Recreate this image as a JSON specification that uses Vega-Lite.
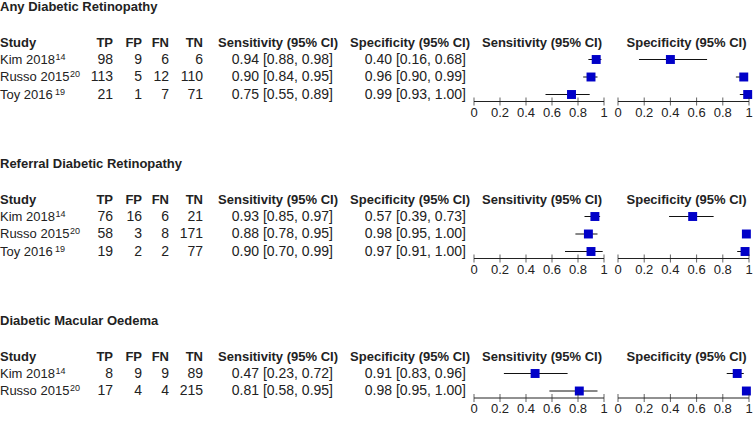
{
"$schema": "https://vega.github.io/schema/vega-lite/v6.json",
"padding": 0,
"background": "white",
"datasets": {
"studies": [
{"sec":"ADR","row":1,"study":"Kim 2018","ref":"14","TP":98,"FP":9,"FN":6,"TN":6,"sens":0.94,"sens_lo":0.88,"sens_hi":0.98,"spec":0.40,"spec_lo":0.16,"spec_hi":0.68,"sens_ci":"0.94 [0.88, 0.98]","spec_ci":"0.40 [0.16, 0.68]"},
{"sec":"ADR","row":2,"study":"Russo 2015","ref":"20","TP":113,"FP":5,"FN":12,"TN":110,"sens":0.90,"sens_lo":0.84,"sens_hi":0.95,"spec":0.96,"spec_lo":0.90,"spec_hi":0.99,"sens_ci":"0.90 [0.84, 0.95]","spec_ci":"0.96 [0.90, 0.99]"},
{"sec":"ADR","row":3,"study":"Toy 2016","ref":"19","TP":21,"FP":1,"FN":7,"TN":71,"sens":0.75,"sens_lo":0.55,"sens_hi":0.89,"spec":0.99,"spec_lo":0.93,"spec_hi":1.00,"sens_ci":"0.75 [0.55, 0.89]","spec_ci":"0.99 [0.93, 1.00]"},
{"sec":"RDR","row":1,"study":"Kim 2018","ref":"14","TP":76,"FP":16,"FN":6,"TN":21,"sens":0.93,"sens_lo":0.85,"sens_hi":0.97,"spec":0.57,"spec_lo":0.39,"spec_hi":0.73,"sens_ci":"0.93 [0.85, 0.97]","spec_ci":"0.57 [0.39, 0.73]"},
{"sec":"RDR","row":2,"study":"Russo 2015","ref":"20","TP":58,"FP":3,"FN":8,"TN":171,"sens":0.88,"sens_lo":0.78,"sens_hi":0.95,"spec":0.98,"spec_lo":0.95,"spec_hi":1.00,"sens_ci":"0.88 [0.78, 0.95]","spec_ci":"0.98 [0.95, 1.00]"},
{"sec":"RDR","row":3,"study":"Toy 2016","ref":"19","TP":19,"FP":2,"FN":2,"TN":77,"sens":0.90,"sens_lo":0.70,"sens_hi":0.99,"spec":0.97,"spec_lo":0.91,"spec_hi":1.00,"sens_ci":"0.90 [0.70, 0.99]","spec_ci":"0.97 [0.91, 1.00]"},
{"sec":"DMO","row":1,"study":"Kim 2018","ref":"14","TP":8,"FP":9,"FN":9,"TN":89,"sens":0.47,"sens_lo":0.23,"sens_hi":0.72,"spec":0.91,"spec_lo":0.83,"spec_hi":0.96,"sens_ci":"0.47 [0.23, 0.72]","spec_ci":"0.91 [0.83, 0.96]"},
{"sec":"DMO","row":2,"study":"Russo 2015","ref":"20","TP":17,"FP":4,"FN":4,"TN":215,"sens":0.81,"sens_lo":0.58,"sens_hi":0.95,"spec":0.98,"spec_lo":0.95,"spec_hi":1.00,"sens_ci":"0.81 [0.58, 0.95]","spec_ci":"0.98 [0.95, 1.00]"}
],
"ticks": [{"v":0,"lab":"0"},{"v":0.2,"lab":"0.2"},{"v":0.4,"lab":"0.4"},{"v":0.6,"lab":"0.6"},{"v":0.8,"lab":"0.8"},{"v":1,"lab":"1"}]
},
"config": {
"view": {"stroke": null},
"text": {"font": "Liberation Sans", "fontSize": 14, "color": "#222", "baseline": "middle"},
"axis": {"disable": true}
},
"columns": 3,
"bounds": "flush",
"align": "each",
"spacing": {"row": 55, "column": 14},
"concat": [
{"width":460,"height":101.5,"layer":[
{"data":{"values":[{}]},"mark":{"type":"text","align":"left","fontWeight":"bold","fontSize":13},"encoding":{"x":{"datum":0,"type":"quantitative","scale":{"type":"linear","domain":[0,1,2,3,4,5,6],"range":[0,113,142,169,203,338,470],"nice":false,"zero":false}},"y":{"datum":-2,"type":"quantitative","scale":{"domain":[-2.4,3.4],"reverse":true,"nice":false,"zero":false}},"text":{"value":"Any Diabetic Retinopathy"}}},
{"data":{"values":[{}]},"mark":{"type":"text","align":"left","fontWeight":"bold","fontSize":13,"dy":1},"encoding":{"x":{"datum":0,"type":"quantitative"},"y":{"datum":0,"type":"quantitative"},"text":{"value":"Study"}}},
{"data":{"values":[{}]},"mark":{"type":"text","align":"right","fontWeight":"bold","fontSize":13,"dy":1},"encoding":{"x":{"datum":1,"type":"quantitative"},"y":{"datum":0,"type":"quantitative"},"text":{"value":"TP"}}},
{"data":{"values":[{}]},"mark":{"type":"text","align":"right","fontWeight":"bold","fontSize":13,"dy":1},"encoding":{"x":{"datum":2,"type":"quantitative"},"y":{"datum":0,"type":"quantitative"},"text":{"value":"FP"}}},
{"data":{"values":[{}]},"mark":{"type":"text","align":"right","fontWeight":"bold","fontSize":13,"dy":1},"encoding":{"x":{"datum":3,"type":"quantitative"},"y":{"datum":0,"type":"quantitative"},"text":{"value":"FN"}}},
{"data":{"values":[{}]},"mark":{"type":"text","align":"right","fontWeight":"bold","fontSize":13,"dy":1},"encoding":{"x":{"datum":4,"type":"quantitative"},"y":{"datum":0,"type":"quantitative"},"text":{"value":"TN"}}},
{"data":{"values":[{}]},"mark":{"type":"text","align":"right","fontWeight":"bold","fontSize":13,"dy":1},"encoding":{"x":{"datum":5,"type":"quantitative"},"y":{"datum":0,"type":"quantitative"},"text":{"value":"Sensitivity (95% CI)"}}},
{"data":{"values":[{}]},"mark":{"type":"text","align":"right","fontWeight":"bold","fontSize":13,"dy":1},"encoding":{"x":{"datum":6,"type":"quantitative"},"y":{"datum":0,"type":"quantitative"},"text":{"value":"Specificity (95% CI)"}}},
{"data":{"name":"studies"},"transform":[{"filter":"datum.sec == 'ADR'"}],"mark":{"type":"text","align":"left","fontSize":13},"encoding":{"x":{"datum":0,"type":"quantitative"},"y":{"field":"row","type":"quantitative"},"text":{"field":"study"}}},
{"data":{"name":"studies"},"transform":[{"filter":"datum.sec == 'ADR' && datum.study == 'Kim 2018'"}],"mark":{"type":"text","align":"left","fontSize":9,"dx":55.5,"dy":-3},"encoding":{"x":{"datum":0,"type":"quantitative"},"y":{"field":"row","type":"quantitative"},"text":{"field":"ref"}}},
{"data":{"name":"studies"},"transform":[{"filter":"datum.sec == 'ADR' && datum.study == 'Russo 2015'"}],"mark":{"type":"text","align":"left","fontSize":9,"dx":70,"dy":-3},"encoding":{"x":{"datum":0,"type":"quantitative"},"y":{"field":"row","type":"quantitative"},"text":{"field":"ref"}}},
{"data":{"name":"studies"},"transform":[{"filter":"datum.sec == 'ADR' && datum.study == 'Toy 2016'"}],"mark":{"type":"text","align":"left","fontSize":9,"dx":55,"dy":-3},"encoding":{"x":{"datum":0,"type":"quantitative"},"y":{"field":"row","type":"quantitative"},"text":{"field":"ref"}}},
{"data":{"name":"studies"},"transform":[{"filter":"datum.sec == 'ADR'"}],"mark":{"type":"text","align":"right"},"encoding":{"x":{"datum":1,"type":"quantitative"},"y":{"field":"row","type":"quantitative"},"text":{"field":"TP"}}},
{"data":{"name":"studies"},"transform":[{"filter":"datum.sec == 'ADR'"}],"mark":{"type":"text","align":"right"},"encoding":{"x":{"datum":2,"type":"quantitative"},"y":{"field":"row","type":"quantitative"},"text":{"field":"FP"}}},
{"data":{"name":"studies"},"transform":[{"filter":"datum.sec == 'ADR'"}],"mark":{"type":"text","align":"right"},"encoding":{"x":{"datum":3,"type":"quantitative"},"y":{"field":"row","type":"quantitative"},"text":{"field":"FN"}}},
{"data":{"name":"studies"},"transform":[{"filter":"datum.sec == 'ADR'"}],"mark":{"type":"text","align":"right"},"encoding":{"x":{"datum":4,"type":"quantitative"},"y":{"field":"row","type":"quantitative"},"text":{"field":"TN"}}},
{"data":{"name":"studies"},"transform":[{"filter":"datum.sec == 'ADR'"}],"mark":{"type":"text","align":"right","dx":-5},"encoding":{"x":{"datum":5,"type":"quantitative"},"y":{"field":"row","type":"quantitative"},"text":{"field":"sens_ci"}}},
{"data":{"name":"studies"},"transform":[{"filter":"datum.sec == 'ADR'"}],"mark":{"type":"text","align":"right","dx":-4},"encoding":{"x":{"datum":6,"type":"quantitative"},"y":{"field":"row","type":"quantitative"},"text":{"field":"spec_ci"}}}
]},
{"width":130,"height":101.5,"layer":[
{"data":{"values":[{}]},"mark":{"type":"text","fontWeight":"bold","fontSize":13,"dy":1,"dx":3},"encoding":{"x":{"datum":0.5,"type":"quantitative","scale":{"domain":[0,1],"nice":false,"zero":false}},"y":{"datum":0,"type":"quantitative","scale":{"domain":[-2.4,3.4],"reverse":true,"nice":false,"zero":false}},"text":{"value":"Sensitivity (95% CI)"}}},
{"data":{"name":"studies"},"transform":[{"filter":"datum.sec == 'ADR'"}],"mark":{"type":"rule","color":"#111","strokeWidth":1},"encoding":{"x":{"field":"sens_lo","type":"quantitative"},"x2":{"field":"sens_hi"},"y":{"field":"row","type":"quantitative"}}},
{"data":{"name":"studies"},"transform":[{"filter":"datum.sec == 'ADR'"}],"mark":{"type":"point","shape":"square","filled":true,"size":80,"color":"#0000c8","opacity":1},"encoding":{"x":{"field":"sens","type":"quantitative"},"y":{"field":"row","type":"quantitative"}}},
{"data":{"values":[{}]},"mark":{"type":"rule","color":"#222","strokeWidth":1},"encoding":{"x":{"datum":0,"type":"quantitative"},"x2":{"datum":1},"y":{"datum":3.4,"type":"quantitative"}}},
{"data":{"name":"ticks"},"mark":{"type":"tick","orient":"vertical","color":"#222","size":8,"thickness":1},"encoding":{"x":{"field":"v","type":"quantitative"},"y":{"datum":3.4,"type":"quantitative"}}},
{"data":{"name":"ticks"},"mark":{"type":"text","fontSize":13,"dy":11},"encoding":{"x":{"field":"v","type":"quantitative"},"y":{"datum":3.4,"type":"quantitative"},"text":{"field":"lab"}}}
]},
{"width":131,"height":101.5,"layer":[
{"data":{"values":[{}]},"mark":{"type":"text","fontWeight":"bold","fontSize":13,"dy":1,"dx":3},"encoding":{"x":{"datum":0.5,"type":"quantitative","scale":{"domain":[0,1],"nice":false,"zero":false}},"y":{"datum":0,"type":"quantitative","scale":{"domain":[-2.4,3.4],"reverse":true,"nice":false,"zero":false}},"text":{"value":"Specificity (95% CI)"}}},
{"data":{"name":"studies"},"transform":[{"filter":"datum.sec == 'ADR'"}],"mark":{"type":"rule","color":"#111","strokeWidth":1},"encoding":{"x":{"field":"spec_lo","type":"quantitative"},"x2":{"field":"spec_hi"},"y":{"field":"row","type":"quantitative"}}},
{"data":{"name":"studies"},"transform":[{"filter":"datum.sec == 'ADR'"}],"mark":{"type":"point","shape":"square","filled":true,"size":80,"color":"#0000c8","opacity":1},"encoding":{"x":{"field":"spec","type":"quantitative"},"y":{"field":"row","type":"quantitative"}}},
{"data":{"values":[{}]},"mark":{"type":"rule","color":"#222","strokeWidth":1},"encoding":{"x":{"datum":0,"type":"quantitative"},"x2":{"datum":1},"y":{"datum":3.4,"type":"quantitative"}}},
{"data":{"name":"ticks"},"mark":{"type":"tick","orient":"vertical","color":"#222","size":8,"thickness":1},"encoding":{"x":{"field":"v","type":"quantitative"},"y":{"datum":3.4,"type":"quantitative"}}},
{"data":{"name":"ticks"},"mark":{"type":"text","fontSize":13,"dy":11},"encoding":{"x":{"field":"v","type":"quantitative"},"y":{"datum":3.4,"type":"quantitative"},"text":{"field":"lab"}}}
]},
{"width":460,"height":101.5,"layer":[
{"data":{"values":[{}]},"mark":{"type":"text","align":"left","fontWeight":"bold","fontSize":13},"encoding":{"x":{"datum":0,"type":"quantitative","scale":{"type":"linear","domain":[0,1,2,3,4,5,6],"range":[0,113,142,169,203,338,470],"nice":false,"zero":false}},"y":{"datum":-2,"type":"quantitative","scale":{"domain":[-2.4,3.4],"reverse":true,"nice":false,"zero":false}},"text":{"value":"Referral Diabetic Retinopathy"}}},
{"data":{"values":[{}]},"mark":{"type":"text","align":"left","fontWeight":"bold","fontSize":13,"dy":1},"encoding":{"x":{"datum":0,"type":"quantitative"},"y":{"datum":0,"type":"quantitative"},"text":{"value":"Study"}}},
{"data":{"values":[{}]},"mark":{"type":"text","align":"right","fontWeight":"bold","fontSize":13,"dy":1},"encoding":{"x":{"datum":1,"type":"quantitative"},"y":{"datum":0,"type":"quantitative"},"text":{"value":"TP"}}},
{"data":{"values":[{}]},"mark":{"type":"text","align":"right","fontWeight":"bold","fontSize":13,"dy":1},"encoding":{"x":{"datum":2,"type":"quantitative"},"y":{"datum":0,"type":"quantitative"},"text":{"value":"FP"}}},
{"data":{"values":[{}]},"mark":{"type":"text","align":"right","fontWeight":"bold","fontSize":13,"dy":1},"encoding":{"x":{"datum":3,"type":"quantitative"},"y":{"datum":0,"type":"quantitative"},"text":{"value":"FN"}}},
{"data":{"values":[{}]},"mark":{"type":"text","align":"right","fontWeight":"bold","fontSize":13,"dy":1},"encoding":{"x":{"datum":4,"type":"quantitative"},"y":{"datum":0,"type":"quantitative"},"text":{"value":"TN"}}},
{"data":{"values":[{}]},"mark":{"type":"text","align":"right","fontWeight":"bold","fontSize":13,"dy":1},"encoding":{"x":{"datum":5,"type":"quantitative"},"y":{"datum":0,"type":"quantitative"},"text":{"value":"Sensitivity (95% CI)"}}},
{"data":{"values":[{}]},"mark":{"type":"text","align":"right","fontWeight":"bold","fontSize":13,"dy":1},"encoding":{"x":{"datum":6,"type":"quantitative"},"y":{"datum":0,"type":"quantitative"},"text":{"value":"Specificity (95% CI)"}}},
{"data":{"name":"studies"},"transform":[{"filter":"datum.sec == 'RDR'"}],"mark":{"type":"text","align":"left","fontSize":13},"encoding":{"x":{"datum":0,"type":"quantitative"},"y":{"field":"row","type":"quantitative"},"text":{"field":"study"}}},
{"data":{"name":"studies"},"transform":[{"filter":"datum.sec == 'RDR' && datum.study == 'Kim 2018'"}],"mark":{"type":"text","align":"left","fontSize":9,"dx":55.5,"dy":-3},"encoding":{"x":{"datum":0,"type":"quantitative"},"y":{"field":"row","type":"quantitative"},"text":{"field":"ref"}}},
{"data":{"name":"studies"},"transform":[{"filter":"datum.sec == 'RDR' && datum.study == 'Russo 2015'"}],"mark":{"type":"text","align":"left","fontSize":9,"dx":70,"dy":-3},"encoding":{"x":{"datum":0,"type":"quantitative"},"y":{"field":"row","type":"quantitative"},"text":{"field":"ref"}}},
{"data":{"name":"studies"},"transform":[{"filter":"datum.sec == 'RDR' && datum.study == 'Toy 2016'"}],"mark":{"type":"text","align":"left","fontSize":9,"dx":55,"dy":-3},"encoding":{"x":{"datum":0,"type":"quantitative"},"y":{"field":"row","type":"quantitative"},"text":{"field":"ref"}}},
{"data":{"name":"studies"},"transform":[{"filter":"datum.sec == 'RDR'"}],"mark":{"type":"text","align":"right"},"encoding":{"x":{"datum":1,"type":"quantitative"},"y":{"field":"row","type":"quantitative"},"text":{"field":"TP"}}},
{"data":{"name":"studies"},"transform":[{"filter":"datum.sec == 'RDR'"}],"mark":{"type":"text","align":"right"},"encoding":{"x":{"datum":2,"type":"quantitative"},"y":{"field":"row","type":"quantitative"},"text":{"field":"FP"}}},
{"data":{"name":"studies"},"transform":[{"filter":"datum.sec == 'RDR'"}],"mark":{"type":"text","align":"right"},"encoding":{"x":{"datum":3,"type":"quantitative"},"y":{"field":"row","type":"quantitative"},"text":{"field":"FN"}}},
{"data":{"name":"studies"},"transform":[{"filter":"datum.sec == 'RDR'"}],"mark":{"type":"text","align":"right"},"encoding":{"x":{"datum":4,"type":"quantitative"},"y":{"field":"row","type":"quantitative"},"text":{"field":"TN"}}},
{"data":{"name":"studies"},"transform":[{"filter":"datum.sec == 'RDR'"}],"mark":{"type":"text","align":"right","dx":-5},"encoding":{"x":{"datum":5,"type":"quantitative"},"y":{"field":"row","type":"quantitative"},"text":{"field":"sens_ci"}}},
{"data":{"name":"studies"},"transform":[{"filter":"datum.sec == 'RDR'"}],"mark":{"type":"text","align":"right","dx":-4},"encoding":{"x":{"datum":6,"type":"quantitative"},"y":{"field":"row","type":"quantitative"},"text":{"field":"spec_ci"}}}
]},
{"width":130,"height":101.5,"layer":[
{"data":{"values":[{}]},"mark":{"type":"text","fontWeight":"bold","fontSize":13,"dy":1,"dx":3},"encoding":{"x":{"datum":0.5,"type":"quantitative","scale":{"domain":[0,1],"nice":false,"zero":false}},"y":{"datum":0,"type":"quantitative","scale":{"domain":[-2.4,3.4],"reverse":true,"nice":false,"zero":false}},"text":{"value":"Sensitivity (95% CI)"}}},
{"data":{"name":"studies"},"transform":[{"filter":"datum.sec == 'RDR'"}],"mark":{"type":"rule","color":"#111","strokeWidth":1},"encoding":{"x":{"field":"sens_lo","type":"quantitative"},"x2":{"field":"sens_hi"},"y":{"field":"row","type":"quantitative"}}},
{"data":{"name":"studies"},"transform":[{"filter":"datum.sec == 'RDR'"}],"mark":{"type":"point","shape":"square","filled":true,"size":80,"color":"#0000c8","opacity":1},"encoding":{"x":{"field":"sens","type":"quantitative"},"y":{"field":"row","type":"quantitative"}}},
{"data":{"values":[{}]},"mark":{"type":"rule","color":"#222","strokeWidth":1},"encoding":{"x":{"datum":0,"type":"quantitative"},"x2":{"datum":1},"y":{"datum":3.4,"type":"quantitative"}}},
{"data":{"name":"ticks"},"mark":{"type":"tick","orient":"vertical","color":"#222","size":8,"thickness":1},"encoding":{"x":{"field":"v","type":"quantitative"},"y":{"datum":3.4,"type":"quantitative"}}},
{"data":{"name":"ticks"},"mark":{"type":"text","fontSize":13,"dy":11},"encoding":{"x":{"field":"v","type":"quantitative"},"y":{"datum":3.4,"type":"quantitative"},"text":{"field":"lab"}}}
]},
{"width":131,"height":101.5,"layer":[
{"data":{"values":[{}]},"mark":{"type":"text","fontWeight":"bold","fontSize":13,"dy":1,"dx":3},"encoding":{"x":{"datum":0.5,"type":"quantitative","scale":{"domain":[0,1],"nice":false,"zero":false}},"y":{"datum":0,"type":"quantitative","scale":{"domain":[-2.4,3.4],"reverse":true,"nice":false,"zero":false}},"text":{"value":"Specificity (95% CI)"}}},
{"data":{"name":"studies"},"transform":[{"filter":"datum.sec == 'RDR'"}],"mark":{"type":"rule","color":"#111","strokeWidth":1},"encoding":{"x":{"field":"spec_lo","type":"quantitative"},"x2":{"field":"spec_hi"},"y":{"field":"row","type":"quantitative"}}},
{"data":{"name":"studies"},"transform":[{"filter":"datum.sec == 'RDR'"}],"mark":{"type":"point","shape":"square","filled":true,"size":80,"color":"#0000c8","opacity":1},"encoding":{"x":{"field":"spec","type":"quantitative"},"y":{"field":"row","type":"quantitative"}}},
{"data":{"values":[{}]},"mark":{"type":"rule","color":"#222","strokeWidth":1},"encoding":{"x":{"datum":0,"type":"quantitative"},"x2":{"datum":1},"y":{"datum":3.4,"type":"quantitative"}}},
{"data":{"name":"ticks"},"mark":{"type":"tick","orient":"vertical","color":"#222","size":8,"thickness":1},"encoding":{"x":{"field":"v","type":"quantitative"},"y":{"datum":3.4,"type":"quantitative"}}},
{"data":{"name":"ticks"},"mark":{"type":"text","fontSize":13,"dy":11},"encoding":{"x":{"field":"v","type":"quantitative"},"y":{"datum":3.4,"type":"quantitative"},"text":{"field":"lab"}}}
]},
{"width":460,"height":84,"layer":[
{"data":{"values":[{}]},"mark":{"type":"text","align":"left","fontWeight":"bold","fontSize":13},"encoding":{"x":{"datum":0,"type":"quantitative","scale":{"type":"linear","domain":[0,1,2,3,4,5,6],"range":[0,113,142,169,203,338,470],"nice":false,"zero":false}},"y":{"datum":-2,"type":"quantitative","scale":{"domain":[-2.4,2.4],"reverse":true,"nice":false,"zero":false}},"text":{"value":"Diabetic Macular Oedema"}}},
{"data":{"values":[{}]},"mark":{"type":"text","align":"left","fontWeight":"bold","fontSize":13,"dy":1},"encoding":{"x":{"datum":0,"type":"quantitative"},"y":{"datum":0,"type":"quantitative"},"text":{"value":"Study"}}},
{"data":{"values":[{}]},"mark":{"type":"text","align":"right","fontWeight":"bold","fontSize":13,"dy":1},"encoding":{"x":{"datum":1,"type":"quantitative"},"y":{"datum":0,"type":"quantitative"},"text":{"value":"TP"}}},
{"data":{"values":[{}]},"mark":{"type":"text","align":"right","fontWeight":"bold","fontSize":13,"dy":1},"encoding":{"x":{"datum":2,"type":"quantitative"},"y":{"datum":0,"type":"quantitative"},"text":{"value":"FP"}}},
{"data":{"values":[{}]},"mark":{"type":"text","align":"right","fontWeight":"bold","fontSize":13,"dy":1},"encoding":{"x":{"datum":3,"type":"quantitative"},"y":{"datum":0,"type":"quantitative"},"text":{"value":"FN"}}},
{"data":{"values":[{}]},"mark":{"type":"text","align":"right","fontWeight":"bold","fontSize":13,"dy":1},"encoding":{"x":{"datum":4,"type":"quantitative"},"y":{"datum":0,"type":"quantitative"},"text":{"value":"TN"}}},
{"data":{"values":[{}]},"mark":{"type":"text","align":"right","fontWeight":"bold","fontSize":13,"dy":1},"encoding":{"x":{"datum":5,"type":"quantitative"},"y":{"datum":0,"type":"quantitative"},"text":{"value":"Sensitivity (95% CI)"}}},
{"data":{"values":[{}]},"mark":{"type":"text","align":"right","fontWeight":"bold","fontSize":13,"dy":1},"encoding":{"x":{"datum":6,"type":"quantitative"},"y":{"datum":0,"type":"quantitative"},"text":{"value":"Specificity (95% CI)"}}},
{"data":{"name":"studies"},"transform":[{"filter":"datum.sec == 'DMO'"}],"mark":{"type":"text","align":"left","fontSize":13},"encoding":{"x":{"datum":0,"type":"quantitative"},"y":{"field":"row","type":"quantitative"},"text":{"field":"study"}}},
{"data":{"name":"studies"},"transform":[{"filter":"datum.sec == 'DMO' && datum.study == 'Kim 2018'"}],"mark":{"type":"text","align":"left","fontSize":9,"dx":55.5,"dy":-3},"encoding":{"x":{"datum":0,"type":"quantitative"},"y":{"field":"row","type":"quantitative"},"text":{"field":"ref"}}},
{"data":{"name":"studies"},"transform":[{"filter":"datum.sec == 'DMO' && datum.study == 'Russo 2015'"}],"mark":{"type":"text","align":"left","fontSize":9,"dx":70,"dy":-3},"encoding":{"x":{"datum":0,"type":"quantitative"},"y":{"field":"row","type":"quantitative"},"text":{"field":"ref"}}},
{"data":{"name":"studies"},"transform":[{"filter":"datum.sec == 'DMO'"}],"mark":{"type":"text","align":"right"},"encoding":{"x":{"datum":1,"type":"quantitative"},"y":{"field":"row","type":"quantitative"},"text":{"field":"TP"}}},
{"data":{"name":"studies"},"transform":[{"filter":"datum.sec == 'DMO'"}],"mark":{"type":"text","align":"right"},"encoding":{"x":{"datum":2,"type":"quantitative"},"y":{"field":"row","type":"quantitative"},"text":{"field":"FP"}}},
{"data":{"name":"studies"},"transform":[{"filter":"datum.sec == 'DMO'"}],"mark":{"type":"text","align":"right"},"encoding":{"x":{"datum":3,"type":"quantitative"},"y":{"field":"row","type":"quantitative"},"text":{"field":"FN"}}},
{"data":{"name":"studies"},"transform":[{"filter":"datum.sec == 'DMO'"}],"mark":{"type":"text","align":"right"},"encoding":{"x":{"datum":4,"type":"quantitative"},"y":{"field":"row","type":"quantitative"},"text":{"field":"TN"}}},
{"data":{"name":"studies"},"transform":[{"filter":"datum.sec == 'DMO'"}],"mark":{"type":"text","align":"right","dx":-5},"encoding":{"x":{"datum":5,"type":"quantitative"},"y":{"field":"row","type":"quantitative"},"text":{"field":"sens_ci"}}},
{"data":{"name":"studies"},"transform":[{"filter":"datum.sec == 'DMO'"}],"mark":{"type":"text","align":"right","dx":-4},"encoding":{"x":{"datum":6,"type":"quantitative"},"y":{"field":"row","type":"quantitative"},"text":{"field":"spec_ci"}}}
]},
{"width":130,"height":84,"layer":[
{"data":{"values":[{}]},"mark":{"type":"text","fontWeight":"bold","fontSize":13,"dy":1,"dx":3},"encoding":{"x":{"datum":0.5,"type":"quantitative","scale":{"domain":[0,1],"nice":false,"zero":false}},"y":{"datum":0,"type":"quantitative","scale":{"domain":[-2.4,2.4],"reverse":true,"nice":false,"zero":false}},"text":{"value":"Sensitivity (95% CI)"}}},
{"data":{"name":"studies"},"transform":[{"filter":"datum.sec == 'DMO'"}],"mark":{"type":"rule","color":"#111","strokeWidth":1},"encoding":{"x":{"field":"sens_lo","type":"quantitative"},"x2":{"field":"sens_hi"},"y":{"field":"row","type":"quantitative"}}},
{"data":{"name":"studies"},"transform":[{"filter":"datum.sec == 'DMO'"}],"mark":{"type":"point","shape":"square","filled":true,"size":80,"color":"#0000c8","opacity":1},"encoding":{"x":{"field":"sens","type":"quantitative"},"y":{"field":"row","type":"quantitative"}}},
{"data":{"values":[{}]},"mark":{"type":"rule","color":"#222","strokeWidth":1},"encoding":{"x":{"datum":0,"type":"quantitative"},"x2":{"datum":1},"y":{"datum":2.4,"type":"quantitative"}}},
{"data":{"name":"ticks"},"mark":{"type":"tick","orient":"vertical","color":"#222","size":8,"thickness":1},"encoding":{"x":{"field":"v","type":"quantitative"},"y":{"datum":2.4,"type":"quantitative"}}},
{"data":{"name":"ticks"},"mark":{"type":"text","fontSize":13,"dy":11},"encoding":{"x":{"field":"v","type":"quantitative"},"y":{"datum":2.4,"type":"quantitative"},"text":{"field":"lab"}}}
]},
{"width":131,"height":84,"layer":[
{"data":{"values":[{}]},"mark":{"type":"text","fontWeight":"bold","fontSize":13,"dy":1,"dx":3},"encoding":{"x":{"datum":0.5,"type":"quantitative","scale":{"domain":[0,1],"nice":false,"zero":false}},"y":{"datum":0,"type":"quantitative","scale":{"domain":[-2.4,2.4],"reverse":true,"nice":false,"zero":false}},"text":{"value":"Specificity (95% CI)"}}},
{"data":{"name":"studies"},"transform":[{"filter":"datum.sec == 'DMO'"}],"mark":{"type":"rule","color":"#111","strokeWidth":1},"encoding":{"x":{"field":"spec_lo","type":"quantitative"},"x2":{"field":"spec_hi"},"y":{"field":"row","type":"quantitative"}}},
{"data":{"name":"studies"},"transform":[{"filter":"datum.sec == 'DMO'"}],"mark":{"type":"point","shape":"square","filled":true,"size":80,"color":"#0000c8","opacity":1},"encoding":{"x":{"field":"spec","type":"quantitative"},"y":{"field":"row","type":"quantitative"}}},
{"data":{"values":[{}]},"mark":{"type":"rule","color":"#222","strokeWidth":1},"encoding":{"x":{"datum":0,"type":"quantitative"},"x2":{"datum":1},"y":{"datum":2.4,"type":"quantitative"}}},
{"data":{"name":"ticks"},"mark":{"type":"tick","orient":"vertical","color":"#222","size":8,"thickness":1},"encoding":{"x":{"field":"v","type":"quantitative"},"y":{"datum":2.4,"type":"quantitative"}}},
{"data":{"name":"ticks"},"mark":{"type":"text","fontSize":13,"dy":11},"encoding":{"x":{"field":"v","type":"quantitative"},"y":{"datum":2.4,"type":"quantitative"},"text":{"field":"lab"}}}
]}
]
}
